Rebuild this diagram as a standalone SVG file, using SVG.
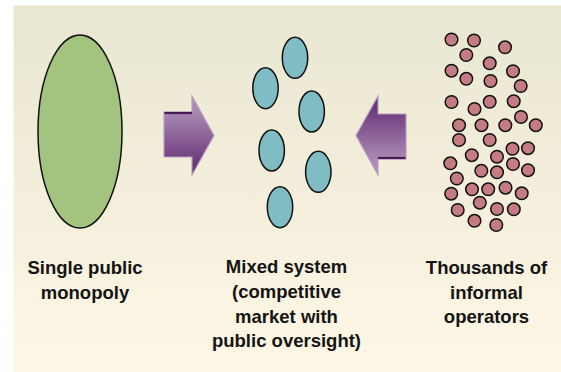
<svg xmlns="http://www.w3.org/2000/svg" width="561" height="372" viewBox="0 0 561 372">
<defs>
<linearGradient id="bg" x1="0" y1="0" x2="0" y2="1">
<stop offset="0" stop-color="#e8e6d1"/>
<stop offset="1" stop-color="#fef7e5"/>
</linearGradient>
<linearGradient id="arr" x1="0" y1="0" x2="0" y2="1">
<stop offset="0" stop-color="#b395bd"/>
<stop offset="0.25" stop-color="#a484af"/>
<stop offset="0.7" stop-color="#7a4b88"/>
<stop offset="1" stop-color="#5a2868"/>
</linearGradient>
<style>
.lbl{font-family:"Liberation Sans",Arial,sans-serif;font-weight:bold;font-size:18.5px;fill:#141414;text-anchor:middle}
.op{fill:#c57b83;stroke:#111;stroke-width:1.5}
.cy{fill:#80bcc3;stroke:#111;stroke-width:1.5}
.arrow{fill:url(#arr);stroke:#b89cc4;stroke-width:1.2;stroke-linejoin:miter}
</style>
</defs>
<rect x="13.5" y="5.5" width="547.5" height="366.5" fill="url(#bg)"/>
<g id="monopoly">
<ellipse cx="80" cy="131.5" rx="42" ry="96.5" fill="#a2c47e" stroke="#111" stroke-width="1.5"/>
<text class="lbl" x="85" y="274">Single public</text>
<text class="lbl" x="85" y="298.5">monopoly</text>
</g>
<g id="mixed">
<ellipse class="cy" cx="295" cy="57.8" rx="12.7" ry="20.5"/>
<ellipse class="cy" cx="265.5" cy="88.2" rx="12.7" ry="20.5"/>
<ellipse class="cy" cx="311.7" cy="111.5" rx="12.7" ry="20.5"/>
<ellipse class="cy" cx="271.7" cy="150.5" rx="12.7" ry="20.5"/>
<ellipse class="cy" cx="318.3" cy="171.8" rx="12.7" ry="20.5"/>
<ellipse class="cy" cx="280" cy="207.2" rx="12.7" ry="20.5"/>
<text class="lbl" x="286.5" y="273">Mixed system</text>
<text class="lbl" x="286.5" y="298">(competitive</text>
<text class="lbl" x="286.5" y="322.5">market with</text>
<text class="lbl" x="286.5" y="347">public oversight)</text>
</g>
<g id="informal">
<circle class="op" cx="451.5" cy="39.5" r="6.3"/>
<circle class="op" cx="474" cy="40.5" r="6.3"/>
<circle class="op" cx="505" cy="47.3" r="6.3"/>
<circle class="op" cx="466.3" cy="55" r="6.3"/>
<circle class="op" cx="489.7" cy="63.3" r="6.3"/>
<circle class="op" cx="451.5" cy="70.7" r="6.3"/>
<circle class="op" cx="513" cy="71.2" r="6.3"/>
<circle class="op" cx="466.3" cy="78.8" r="6.3"/>
<circle class="op" cx="490.5" cy="81" r="6.3"/>
<circle class="op" cx="520.7" cy="86" r="6.3"/>
<circle class="op" cx="451.5" cy="102" r="6.3"/>
<circle class="op" cx="489.7" cy="101.8" r="6.3"/>
<circle class="op" cx="513.7" cy="101.2" r="6.3"/>
<circle class="op" cx="474.5" cy="109" r="6.3"/>
<circle class="op" cx="521" cy="117" r="6.3"/>
<circle class="op" cx="459" cy="125.2" r="6.3"/>
<circle class="op" cx="481.5" cy="125.2" r="6.3"/>
<circle class="op" cx="505.3" cy="125.2" r="6.3"/>
<circle class="op" cx="535.8" cy="125.2" r="6.3"/>
<circle class="op" cx="459" cy="140" r="6.3"/>
<circle class="op" cx="489.7" cy="140" r="6.3"/>
<circle class="op" cx="512.5" cy="148.8" r="6.3"/>
<circle class="op" cx="528" cy="148.2" r="6.3"/>
<circle class="op" cx="471.8" cy="155.2" r="6.3"/>
<circle class="op" cx="497" cy="156.7" r="6.3"/>
<circle class="op" cx="450.3" cy="163.3" r="6.3"/>
<circle class="op" cx="513" cy="164" r="6.3"/>
<circle class="op" cx="481.3" cy="170.8" r="6.3"/>
<circle class="op" cx="497" cy="172.3" r="6.3"/>
<circle class="op" cx="528" cy="170.2" r="6.3"/>
<circle class="op" cx="456.8" cy="178.5" r="6.3"/>
<circle class="op" cx="472" cy="189.3" r="6.3"/>
<circle class="op" cx="488.2" cy="189.3" r="6.3"/>
<circle class="op" cx="505.5" cy="187.7" r="6.3"/>
<circle class="op" cx="451.2" cy="193.7" r="6.3"/>
<circle class="op" cx="521.7" cy="193.3" r="6.3"/>
<circle class="op" cx="479.8" cy="202.7" r="6.3"/>
<circle class="op" cx="457.7" cy="210" r="6.3"/>
<circle class="op" cx="497" cy="209" r="6.3"/>
<circle class="op" cx="513.8" cy="209.3" r="6.3"/>
<circle class="op" cx="474.5" cy="220.8" r="6.3"/>
<circle class="op" cx="496.3" cy="225" r="6.3"/>
<text class="lbl" x="486.5" y="274">Thousands of</text>
<text class="lbl" x="486.5" y="298.5">informal</text>
<text class="lbl" x="486.5" y="323">operators</text>
</g>
<g id="connectors">
<g id="arrow-right">
<path class="arrow" d="M164,112 H192 V96 L214,135.5 L192,175 V157 H164 Z"/>
<path d="M164.5,113 H192" stroke="#4a1a56" stroke-width="2.2" fill="none"/>
</g>
<g id="arrow-left" transform="rotate(180 285 135.5)">
<path class="arrow" d="M164,112 H192 V96 L214,135.5 L192,175 V157 H164 Z"/>
<path d="M164.5,113 H192" stroke="#4a1a56" stroke-width="2.2" fill="none"/>
</g>
</g>
</svg>
